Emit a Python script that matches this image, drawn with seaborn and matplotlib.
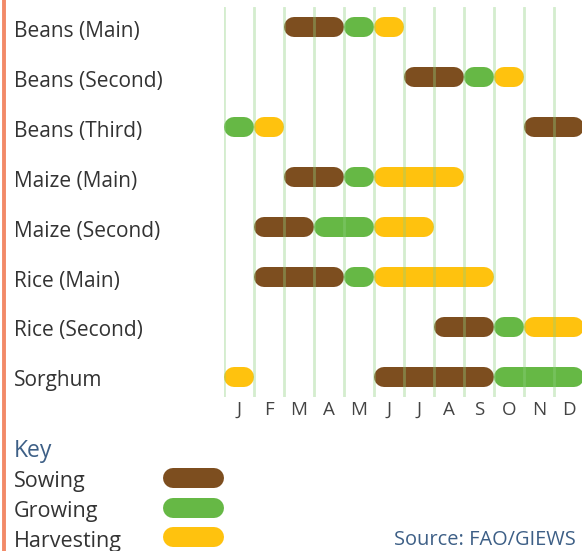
import numpy as np
import pandas as pd
import matplotlib
matplotlib.use('Agg')
import matplotlib.pyplot as plt
import matplotlib.transforms as mtransforms
from matplotlib.lines import Line2D
import seaborn as sns

# --- data ---
crops = ['Beans (Main)', 'Beans (Second)', 'Beans (Third)', 'Maize (Main)',
         'Maize (Second)', 'Rice (Main)', 'Rice (Second)', 'Sorghum']
months = ['J', 'F', 'M', 'A', 'M', 'J', 'J', 'A', 'S', 'O', 'N', 'D']
stages = ['Sowing', 'Growing', 'Harvesting']

# one entry per coloured segment (month index 0 = Jan, end exclusive)
seg_crop = ['Beans (Main)', 'Beans (Main)', 'Beans (Main)',
            'Beans (Second)', 'Beans (Second)', 'Beans (Second)',
            'Beans (Third)', 'Beans (Third)', 'Beans (Third)',
            'Maize (Main)', 'Maize (Main)', 'Maize (Main)',
            'Maize (Second)', 'Maize (Second)', 'Maize (Second)',
            'Rice (Main)', 'Rice (Main)', 'Rice (Main)',
            'Rice (Second)', 'Rice (Second)', 'Rice (Second)',
            'Sorghum', 'Sorghum', 'Sorghum']
seg_stage = ['Sowing', 'Growing', 'Harvesting',
             'Sowing', 'Growing', 'Harvesting',
             'Growing', 'Harvesting', 'Sowing',
             'Sowing', 'Growing', 'Harvesting',
             'Sowing', 'Growing', 'Harvesting',
             'Sowing', 'Growing', 'Harvesting',
             'Sowing', 'Growing', 'Harvesting',
             'Harvesting', 'Sowing', 'Growing']
seg_start = [2, 4, 5, 6, 8, 9, 0, 1, 10, 2, 4, 5, 1, 3, 5, 1, 4, 5, 7, 9, 10, 0, 5, 9]
seg_end = [4, 5, 6, 8, 9, 10, 1, 2, 12, 4, 5, 8, 3, 5, 7, 4, 5, 9, 9, 10, 12, 1, 9, 12]

df = pd.DataFrame({'crop': seg_crop, 'stage': seg_stage,
                   'start': seg_start, 'end': seg_end})
df['row'] = df['crop'].map({c: i for i, c in enumerate(crops)})

# --- style ---
sns.set_style('white')
plt.rcParams['font.family'] = ['Open Sans', 'DejaVu Sans']
palette = dict(zip(stages, sns.color_palette(['#7d4e1f', '#66b845', '#ffc20e'])))
text_col = '#333333'
blue_col = '#3d5f86'

W, H = 582, 551
fig = plt.figure(figsize=(W / 100, H / 100), dpi=100)
# axes: month 0 at x=224px, 30px per month; rows 50px apart starting y=27px
ax = fig.add_axes([224 / W, (H - 397) / H, 360 / W, 390 / H])
ax.set_xlim(0, 12)
ax.set_ylim(7.4, -0.4)

bar_px = 20
r = (bar_px / 2) / 30  # cap radius in months
for _, s in df.iterrows():
    ax.plot([s['start'] + r, s['end'] - r], [s['row'], s['row']],
            color=palette[s['stage']], lw=bar_px * 72 / 100,
            solid_capstyle='round', zorder=2)

for m in range(13):
    ax.axvline(m, color='#8fd080', alpha=0.38, lw=2, zorder=3)

ax.set_xticks(np.arange(12) + 0.5, months)
ax.set_yticks([])
ax.tick_params(axis='x', length=0, pad=3, labelsize=13.5, labelcolor='#444444')
sns.despine(ax=ax, left=True, bottom=True)

trans = mtransforms.blended_transform_factory(fig.transFigure, ax.transData)
for i, c in enumerate(crops):
    ax.text(14 / W, i + 0.08, c, transform=trans, ha='left', va='center',
            fontsize=15, color=text_col)

# left orange rule
fig.add_artist(Line2D([4 / W, 4 / W], [0, 1], transform=fig.transFigure,
                      color='#f28a68', lw=2.8))

# key
fig.text(14 / W, 1 - 451 / H, 'Key', ha='left', va='center',
         fontsize=16.5, color=blue_col)
for k, st in enumerate(stages):
    yy = 1 - (478 + 29.5 * k) / H
    fig.text(14 / W, 1 - (481 + 30 * k) / H, st, ha='left', va='center',
             fontsize=15.5, color=text_col)
    fig.add_artist(Line2D([(163 + 10) / W, (224 - 10) / W], [yy, yy],
                          transform=fig.transFigure, color=palette[st],
                          lw=bar_px * 72 / 100, solid_capstyle='round'))

fig.text(394 / W, 1 - 540 / H, 'Source: FAO/GIEWS', ha='left', va='center',
         fontsize=14.4, color=blue_col)

fig.savefig('out.png', dpi=100)
